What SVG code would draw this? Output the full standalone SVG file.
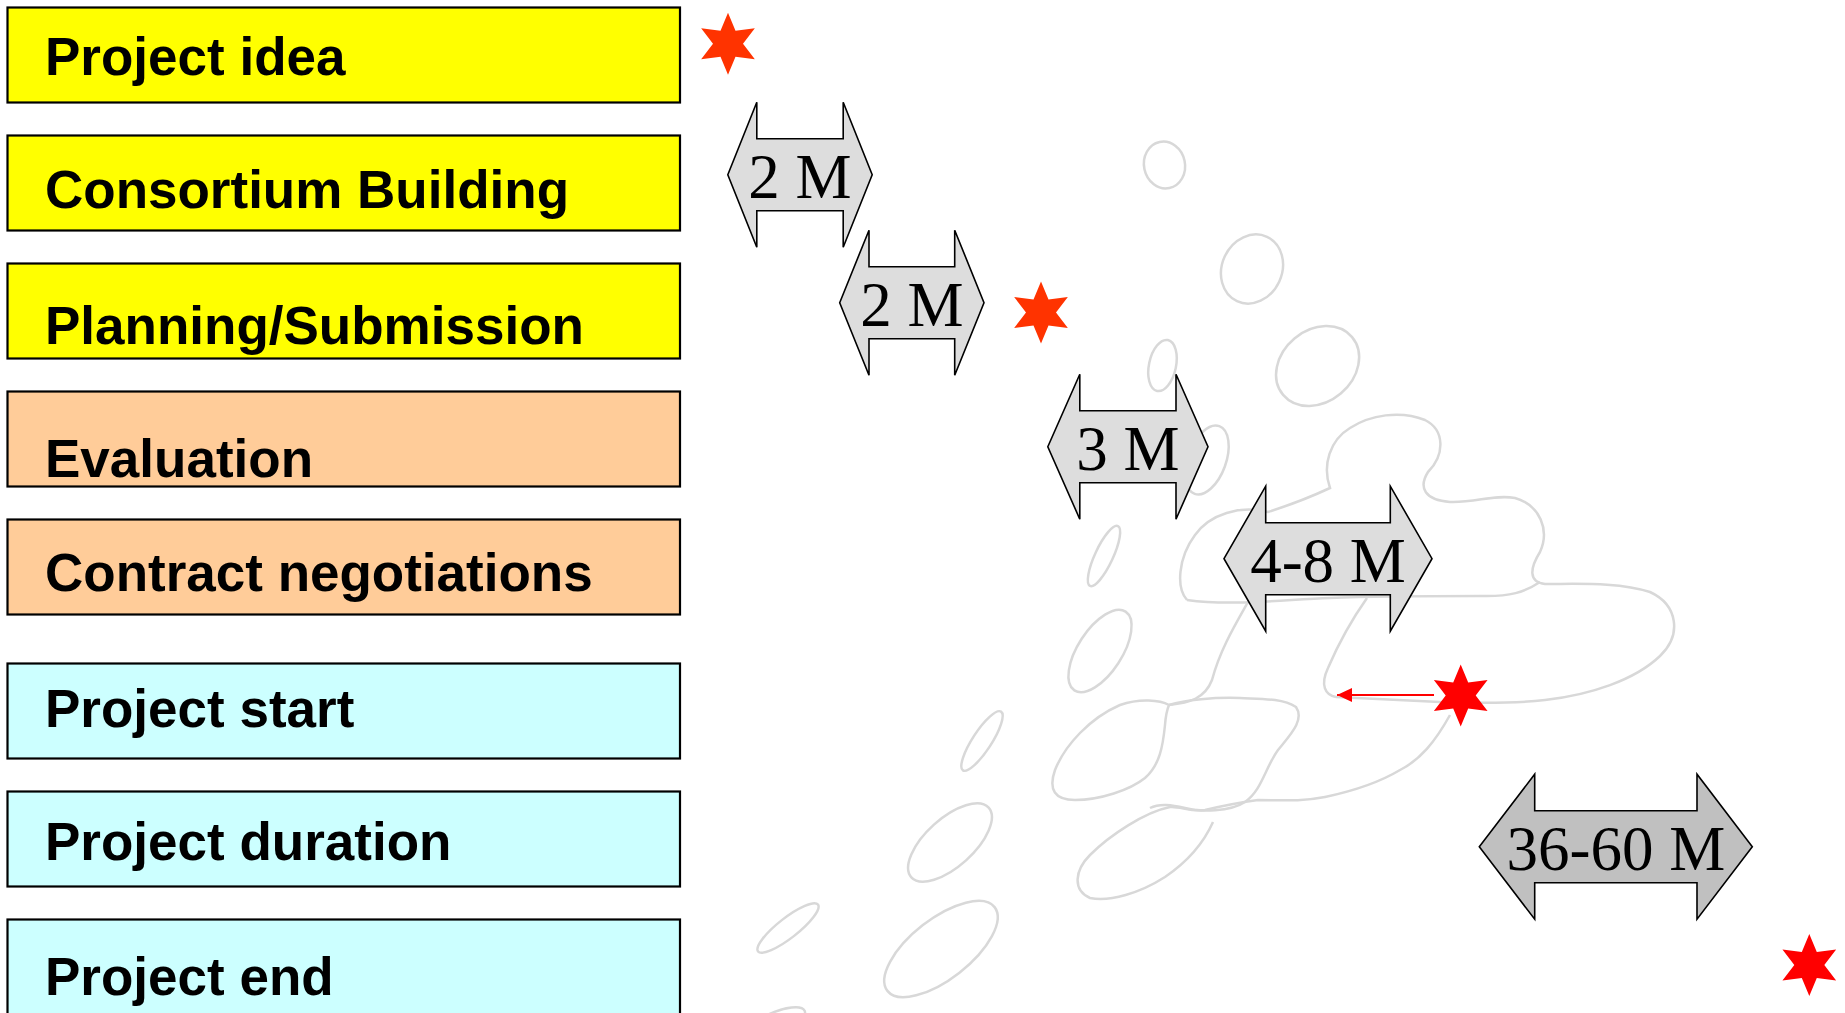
<svg xmlns="http://www.w3.org/2000/svg" width="1845" height="1013" viewBox="0 0 1845 1013">
<style>
  .box { stroke: #000; stroke-width: 2.2; }
  .yel { fill: #FFFF00; }
  .peach { fill: #FFCC99; }
  .cyan { fill: #CCFFFF; }
  .lbl { font-family: "Liberation Sans", Arial, sans-serif; font-weight: bold; font-size: 53px; fill: #000; }
  .arr { stroke: #000; stroke-width: 1.6; stroke-linejoin: miter; }
  .light { fill: #DDDDDD; }
  .dark { fill: #C0C0C0; }
  .dur { font-family: "Liberation Serif", "Times New Roman", serif; font-size: 63px; fill: #000; text-anchor: middle; }
  .bg { fill: none; stroke: #D8D8D8; stroke-width: 2.5; }
  .conn { stroke: #FF0000; stroke-width: 2; fill: none; }
</style>
<defs>
  <path id="star" d="M0,-31 L7.5,-13 L26.85,-15.5 L15,0 L26.85,15.5 L7.5,13 L0,31 L-7.5,13 L-26.85,15.5 L-15,0 L-26.85,-15.5 L-7.5,-13 Z"/>
  <marker id="head" markerWidth="16" markerHeight="14" refX="15" refY="7" orient="auto" markerUnits="userSpaceOnUse">
    <path d="M0,0 L15,7 L0,14 Z" fill="#FF0000"/>
  </marker>
</defs>
<rect width="1845" height="1013" fill="#FFFFFF"/>

<g id="background">
  <ellipse class="bg" cx="1164.5" cy="165" rx="20.5" ry="23.5" transform="rotate(-12 1164.5 165)"/>
  <ellipse class="bg" cx="1252" cy="269" rx="30" ry="35.5" transform="rotate(25 1252 269)"/>
  <ellipse class="bg" cx="1162.5" cy="365.5" rx="13.5" ry="26" transform="rotate(12 1162.5 365.5)"/>
  <ellipse class="bg" cx="1317.6" cy="366" rx="45" ry="36" transform="rotate(-40 1317.6 366)"/>
  <ellipse class="bg" cx="1207" cy="460" rx="19" ry="36" transform="rotate(20 1207 460)"/>
  <ellipse class="bg" cx="1104" cy="556" rx="33" ry="9" transform="rotate(-65 1104 556)"/>
  <ellipse class="bg" cx="1100" cy="651" rx="47" ry="22" transform="rotate(-57 1100 651)"/>
  <ellipse class="bg" cx="982" cy="741" rx="35" ry="9.5" transform="rotate(-57 982 741)"/>
  <ellipse class="bg" cx="950" cy="842.5" rx="52" ry="24" transform="rotate(-42 950 842.5)"/>
  <ellipse class="bg" cx="788" cy="928" rx="38" ry="10" transform="rotate(-38 788 928)"/>
  <ellipse class="bg" cx="941" cy="949" rx="68" ry="30" transform="rotate(-38 941 949)"/>
  <ellipse class="bg" cx="772" cy="1026" rx="36" ry="12" transform="rotate(-25 772 1026)"/>
  <path class="bg" d="M1187,600 C1176,588 1178,558 1195,535 C1210,514 1240,505 1268,512 C1290,505 1315,495 1330,488 C1322,465 1330,440 1350,428 C1370,415 1400,410 1425,420 C1445,430 1445,455 1428,472 C1418,488 1425,500 1450,502 C1475,503 1495,494 1515,498 C1540,505 1550,530 1540,552 C1530,568 1528,582 1545,584 C1580,584 1620,582 1650,592 C1678,605 1682,635 1660,656 C1635,680 1590,695 1545,700 C1510,704 1470,703 1440,702 C1400,700 1360,698 1336,697"/>
  <path class="bg" d="M1187,600 C1230,606 1280,600 1330,598 C1380,596 1440,596 1480,596 C1510,597 1525,592 1540,582"/>
  <path class="bg" d="M1367,598 C1355,615 1340,640 1328,668 C1320,685 1325,695 1336,697"/>
  <path class="bg" d="M1248,602 C1235,625 1220,650 1212,680 C1205,698 1190,703 1169,705"/>
  <path class="bg" d="M1169,705 C1160,700 1140,698 1120,705 C1090,718 1065,745 1055,770 C1048,790 1055,800 1075,800 C1100,800 1130,790 1145,778 C1160,765 1163,745 1165,725 C1166,712 1169,705 1169,705 Z"/>
  <path class="bg" d="M1169,705 C1185,700 1215,697 1240,698 C1260,699 1282,698 1296,707 C1305,720 1290,735 1278,750 C1265,768 1262,790 1245,802 C1230,812 1200,812 1185,808 C1172,805 1160,803 1150,808"/>
  <path class="bg" d="M1450,715 C1435,742 1420,760 1400,770 C1380,782 1358,790 1325,797 C1300,802 1280,800 1258,800 C1235,803 1222,806 1205,810 C1190,812 1180,806 1170,807 C1145,812 1110,835 1090,855 C1075,870 1072,890 1090,898 C1110,902 1140,893 1165,877 C1190,860 1205,840 1213,822"/>
</g>

<g id="node-project-idea">
  <rect class="box yel" x="7.5" y="7.5" width="672.5" height="95"/>
  <text class="lbl" x="45" y="75">Project idea</text>
</g>
<g id="node-consortium-building">
  <rect class="box yel" x="7.5" y="135.5" width="672.5" height="95"/>
  <text class="lbl" x="45" y="208">Consortium Building</text>
</g>
<g id="node-planning-submission">
  <rect class="box yel" x="7.5" y="263.5" width="672.5" height="95"/>
  <text class="lbl" x="45" y="344">Planning/Submission</text>
</g>
<g id="node-evaluation">
  <rect class="box peach" x="7.5" y="391.5" width="672.5" height="95"/>
  <text class="lbl" x="45" y="477">Evaluation</text>
</g>
<g id="node-contract-negotiations">
  <rect class="box peach" x="7.5" y="519.5" width="672.5" height="95"/>
  <text class="lbl" x="45" y="591">Contract negotiations</text>
</g>
<g id="node-project-start">
  <rect class="box cyan" x="7.5" y="663.5" width="672.5" height="95"/>
  <text class="lbl" x="45" y="727">Project start</text>
</g>
<g id="node-project-duration">
  <rect class="box cyan" x="7.5" y="791.5" width="672.5" height="95"/>
  <text class="lbl" x="45" y="860">Project duration</text>
</g>
<g id="node-project-end">
  <rect class="box cyan" x="7.5" y="919.5" width="672.5" height="100"/>
  <text class="lbl" x="45" y="995">Project end</text>
</g>

<g id="duration-2m-a">
  <polygon class="arr light" points="727.8,174.7 756.8,102.2 756.8,138.7 843.2,138.7 843.2,102.2 872.2,174.7 843.2,247.2 843.2,210.7 756.8,210.7 756.8,247.2"/>
  <text class="dur" x="800" y="198.3">2 M</text>
</g>
<g id="duration-2m-b">
  <polygon class="arr light" points="839.7,302.7 869,230.2 869,266.7 954.7,266.7 954.7,230.2 984,302.7 954.7,375.2 954.7,338.7 869,338.7 869,375.2"/>
  <text class="dur" x="911.8" y="326.2">2 M</text>
</g>
<g id="duration-3m">
  <polygon class="arr light" points="1047.8,446.7 1079.8,374.2 1079.8,410.7 1176,410.7 1176,374.2 1208,446.7 1176,519.2 1176,482.7 1079.8,482.7 1079.8,519.2"/>
  <text class="dur" x="1128" y="470">3 M</text>
</g>
<g id="duration-4-8m">
  <polygon class="arr light" points="1224,558.7 1265.7,486.2 1265.7,522.7 1390.3,522.7 1390.3,486.2 1432,558.7 1390.3,631.2 1390.3,594.7 1265.7,594.7 1265.7,631.2"/>
  <text class="dur" x="1328" y="582">4-8 M</text>
</g>
<g id="duration-36-60m">
  <polygon class="arr dark" points="1479.3,846.7 1534.7,774.2 1534.7,810.7 1697,810.7 1697,774.2 1752.3,846.7 1697,919.2 1697,882.7 1534.7,882.7 1534.7,919.2"/>
  <text class="dur" x="1615.8" y="870">36-60 M</text>
</g>

<g id="milestone-idea"><use href="#star" x="728" y="43.8" fill="#FF3300"/></g>
<g id="milestone-submission"><use href="#star" x="1041" y="312.5" fill="#FF3300"/></g>
<g id="milestone-start"><use href="#star" x="1460.7" y="695.5" fill="#FF0000"/></g>
<g id="milestone-end"><use href="#star" x="1809.3" y="965" fill="#FF0000"/></g>

<g id="connectors">
  <line class="conn" x1="1434" y1="695" x2="1337" y2="695" marker-end="url(#head)"/>
</g>
</svg>
